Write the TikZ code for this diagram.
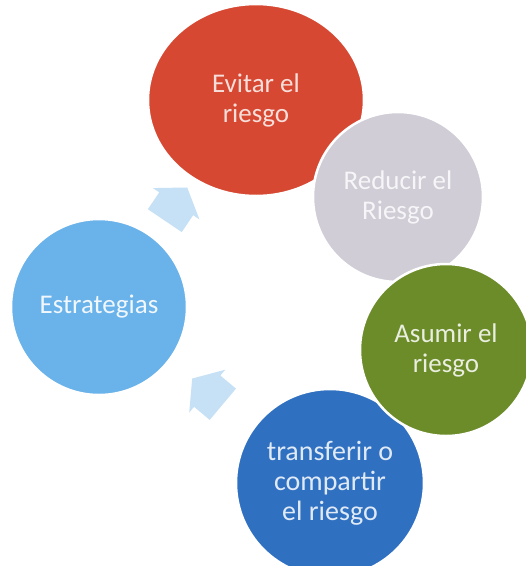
\documentclass[tikz,border=0pt]{standalone}
\usepackage{fontspec}
\setmainfont{Carlito}
\usepackage[usenames,dvipsnames]{xcolor}
\usepackage{tikz}
\usetikzlibrary{shapes.geometric, shapes.arrows}

\definecolor{evitarRed}{RGB}{214,72,50}
\definecolor{reducirGray}{RGB}{208,205,214}
\definecolor{asumirGreen}{RGB}{108,140,42}
\definecolor{transferBlue}{RGB}{48,112,192}
\definecolor{estrategBlue}{RGB}{106,178,234}
\definecolor{cycleArrow}{RGB}{198,225,245}

\tikzset{
  riskcircle/.style={circle, draw=white, line width=2.5pt, inner sep=0pt,
    align=center, font=\fontsize{27}{30}\selectfont},
  cyclearrow/.style={single arrow, fill=cycleArrow, draw=none, inner sep=0pt,
    inner ysep=19pt, minimum height=40pt, minimum width=56pt,
    single arrow tip angle=110}
}

\begin{document}
\begin{tikzpicture}[x=1pt, y=-1pt]

\useasboundingbox[fill=white] (0,0) rectangle (526,566);

% strategies
\node[riskcircle, fill=estrategBlue, text=white!90!estrategBlue, minimum size=176pt] (estrategias) at (99,307) {Estrategias};

\node[riskcircle, ellipse, fill=evitarRed, text=white!82!evitarRed, minimum width=216pt, minimum height=192pt] (evitar) at (256,100) {Evitar el\\riesgo};

\node[riskcircle, fill=reducirGray, text=white!80!reducirGray, minimum size=170pt] (reducir) at (398,197) {Reducir el\\Riesgo};

\node[riskcircle, fill=transferBlue, text=white!85!transferBlue, minimum size=188pt, font=\fontsize{28}{30}\selectfont] (transferir) at (330,483) {transferir o\\compartir\\el riesgo};

\node[riskcircle, fill=asumirGreen, text=white!85!asumirGreen, minimum size=172pt] (asumir) at (446,350) {Asumir el\\riesgo};

% arrows of the cycle
\node[cyclearrow, rotate=56] (toevitar) at (172,210) {};
\node[cyclearrow, rotate=140] (toestrateg) at (213,396) {};

\end{tikzpicture}
\end{document}
